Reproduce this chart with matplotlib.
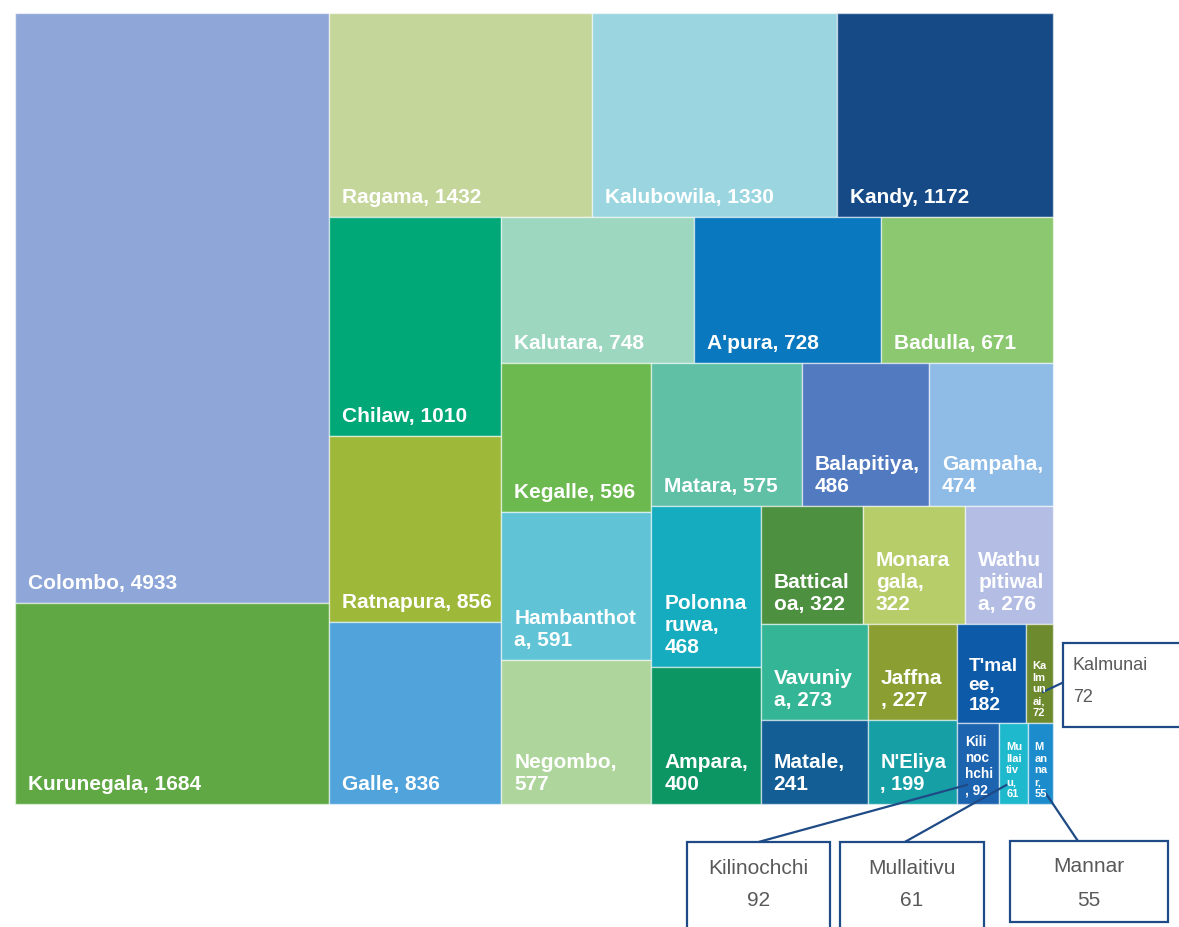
import matplotlib
matplotlib.use("Agg")
import matplotlib.pyplot as plt
from matplotlib.patches import Rectangle
from matplotlib.font_manager import FontProperties

# hospitals and patient counts, in drawing order
hospitals = [
    "Colombo", "Kurunegala", "Ragama", "Kalubowila", "Kandy", "Chilaw",
    "Ratnapura", "Galle", "Kalutara", "A'pura", "Badulla", "Kegalle",
    "Hambanthota", "Negombo", "Matara", "Balapitiya", "Gampaha",
    "Polonnaruwa", "Ampara", "Batticaloa", "Monaragala", "Wathupitiwala",
    "Vavuniya", "Matale", "Jaffna", "N'Eliya", "T'malee", "Kalmunai",
    "Kilinochchi", "Mullaitivu", "Mannar",
]
patients = [
    4933, 1684, 1432, 1330, 1172, 1010,
    856, 836, 748, 728, 671, 596,
    591, 577, 575, 486, 474,
    468, 400, 322, 322, 276,
    273, 241, 227, 199, 182, 72,
    92, 61, 55,
]
colours = [
    "#8FA6D8", "#5FA844", "#C5D69B", "#9BD6E0", "#164A87", "#00A878",
    "#9EB83A", "#50A3DB", "#9DD7C0", "#0A78BE", "#8CC870", "#6CB950",
    "#60C4D6", "#AED59C", "#60C0A5", "#527AC0", "#8EBCE6",
    "#14ACBE", "#0C9664", "#4C9040", "#B7CD6A", "#B4BEE4",
    "#34B696", "#145E96", "#8A9E32", "#16A0A6", "#0C5AA8", "#6E8A2E",
    "#1C64B0", "#1EB9CD", "#1C8CCD",
]

# strips of the treemap: (how many cells, "v" = column / "h" = row)
STRIPS = [(2, "v"), (3, "h"), (3, "v"), (3, "h"), (3, "v"), (3, "h"),
          (2, "v"), (3, "h"), (2, "v"), (2, "v"), (2, "h"), (3, "h")]

# callouts for small cells: name, box (x, y, w, h), anchor in cell,
# where the leader leaves the box, text alignment
CALLOUTS = [
    ("Kalmunai", (1063, 643, 120, 84), (0.6, 0.69), 0.47, "left"),
    ("Kilinochchi", (687, 842, 143, 100), (0.27, 0.76), 0.50, "center"),
    ("Mullaitivu", (840, 842, 144, 100), (0.28, 0.76), 0.45, "center"),
    ("Mannar", (1010, 841, 158, 81), (0.7, 0.86), 0.43, "center"),
]

X0, Y0, W0, H0 = 15, 13, 1038, 791
EDGE = "#1E4B86"


def strip_layout(values, strips, x, y, w, h):
    rects = []
    i = 0
    remaining = float(sum(values))
    for n, d in strips:
        chunk = values[i:i + n]
        s = float(sum(chunk))
        if d == "v":
            sw = w * s / remaining
            yy = y
            for v in chunk:
                ih = h * v / s
                rects.append((x, yy, sw, ih))
                yy += ih
            x += sw
            w -= sw
        else:
            sh = h * s / remaining
            xx = x
            for v in chunk:
                iw = w * v / s
                rects.append((xx, y, iw, sh))
                xx += iw
            y += sh
            h -= sh
        remaining -= s
        i += n
    return rects


fig = plt.figure(figsize=(11.79, 9.27), dpi=100)
ax = fig.add_axes([0, 0, 1, 1])
ax.set_xlim(0, 1179)
ax.set_ylim(927, 0)
ax.axis("off")
renderer = fig.canvas.get_renderer()


def text_width(s, prop):
    w, _, _ = renderer.get_text_width_height_descent(s, prop, ismath=False)
    return w


def wrap(label, prop, maxw):
    lines = []
    cur = ""
    for word in label.split(" "):
        cand = word if not cur else cur + " " + word
        if text_width(cand, prop) <= maxw:
            cur = cand
            continue
        if cur:
            lines.append(cur)
            cur = ""
        while len(word) > 1 and text_width(word, prop) > maxw:
            k = len(word) - 1
            while k > 1 and text_width(word[:k], prop) > maxw:
                k -= 1
            lines.append(word[:k])
            word = word[k:]
        cur = word
    if cur:
        lines.append(cur)
    return lines


rects = strip_layout(patients, STRIPS, X0, Y0, W0, H0)
cells = {}
for name, val, col, (x, y, w, h) in zip(hospitals, patients, colours, rects):
    cells[name] = (x, y, w, h)
    ax.add_patch(Rectangle((x, y), w, h, facecolor=col,
                           edgecolor=(1, 1, 1, 0.55), linewidth=1))

    fs = max(8, min(15, w / 4.3, (w * h) ** 0.5 / 6.0))
    prop = FontProperties(family="Liberation Sans", weight="bold", size=fs)
    pad = 13 * fs / 15
    px = fs * 100 / 72
    maxw = w - pad - 8.5 * fs / 15
    lines = wrap(f"{name}, {val}", prop, maxw)
    max_lines = max(1, int((h - 4) / (px * 1.12)))
    if len(lines) > max_lines:
        last = lines[max_lines - 1]
        while last and text_width(last + "...", prop) > maxw:
            last = last[:-1]
        lines = lines[:max_lines - 1] + [last + "..."]
    ax.text(x + pad, y + h - 10 * fs / 15, "\n".join(lines),
            fontproperties=prop, color="white", ha="left", va="bottom",
            linespacing=1.2)

for name, (bx, by, bw, bh), (fx, fy), sx, align in CALLOUTS:
    cx, cy, cw, ch = cells[name]
    end = (cx + cw * fx, cy + ch * fy)
    if align == "left":
        start = (bx, by + bh * sx)
    else:
        start = (bx + bw * sx, by)
    ax.plot([end[0], start[0]], [end[1], start[1]], color=EDGE,
            linewidth=1.6, solid_capstyle="butt")
    ax.add_patch(Rectangle((bx, by), bw, bh, facecolor="white",
                           edgecolor=EDGE, linewidth=1.6))
    value = patients[hospitals.index(name)]
    if align == "left":
        ax.text(bx + 10, by + 22, name, ha="left", va="center", fontsize=13,
                family="Liberation Sans", color="#595959")
        ax.text(bx + 10, by + 54, str(value), ha="left", va="center",
                fontsize=13, family="Liberation Sans", color="#595959")
    else:
        ax.text(bx + bw / 2, by + 26, name, ha="center", va="center",
                fontsize=15, family="Liberation Sans", color="#595959")
        ax.text(bx + bw / 2, by + 59, str(value), ha="center", va="center",
                fontsize=15, family="Liberation Sans", color="#595959")

fig.savefig("out.png", dpi=100, facecolor="white")
